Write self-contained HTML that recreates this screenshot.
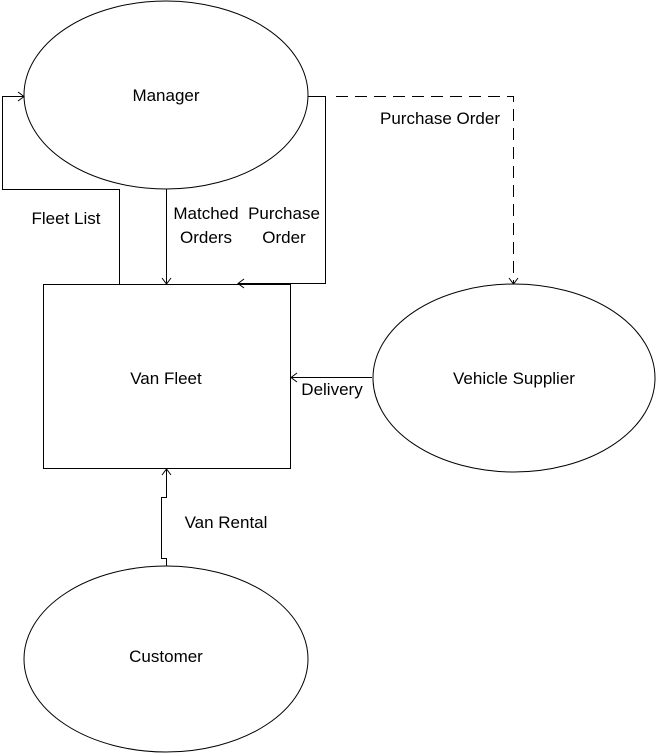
<!DOCTYPE html>
<html><head><meta charset="utf-8"><style>
html,body{margin:0;padding:0;background:#fff;}
svg{display:block;}
text{font-family:"Liberation Sans",sans-serif;font-size:17px;fill:#000;}
</style></head><body>
<svg width="656" height="756" viewBox="0 0 656 756" xmlns="http://www.w3.org/2000/svg">
<g fill="none" stroke="#000" stroke-width="1">
<ellipse cx="166" cy="95" rx="142" ry="94"/>
<ellipse cx="514" cy="378" rx="141" ry="94"/>
<ellipse cx="166" cy="659" rx="142" ry="93"/>
<rect x="43.5" y="284.5" width="247" height="184"/>
<polyline points="119.5,284 119.5,189.5 2.5,189.5 2.5,96.5 24,96.5"/>
<polyline points="18,92 24,96.5 18,101"/>
<line x1="166.5" y1="189" x2="166.5" y2="284"/>
<polyline points="162,278 166.5,284 171,278"/>
<polyline points="308,96.5 325.5,96.5 325.5,283.5 238,283.5"/>
<polyline points="244,279 238,283.5 244,288"/>
<polyline points="336,96.5 513.5,96.5 513.5,284" stroke-dasharray="12,7"/>
<polyline points="509,278 513.5,284 518,278"/>
<line x1="372" y1="377.5" x2="291" y2="377.5"/>
<polyline points="297,373 291,377.5 297,382"/>
<polyline points="166.5,566 166.5,558.5 161.5,558.5 161.5,497.5 166.5,497.5 166.5,469"/>
<polyline points="162,475 166.5,469 171,475"/>
</g>
<text x="166" y="101" text-anchor="middle">Manager</text>
<text x="166" y="384" text-anchor="middle">Van Fleet</text>
<text x="514" y="384" text-anchor="middle">Vehicle Supplier</text>
<text x="166" y="662" text-anchor="middle">Customer</text>
<text x="66" y="224" text-anchor="middle">Fleet List</text>
<text x="206" y="219" text-anchor="middle">Matched</text>
<text x="206" y="243" text-anchor="middle">Orders</text>
<text x="284" y="219" text-anchor="middle">Purchase</text>
<text x="284" y="243" text-anchor="middle">Order</text>
<text x="440" y="124" text-anchor="middle">Purchase Order</text>
<text x="332" y="395" text-anchor="middle">Delivery</text>
<text x="226" y="528" text-anchor="middle">Van Rental</text>
</svg>
</body></html>
